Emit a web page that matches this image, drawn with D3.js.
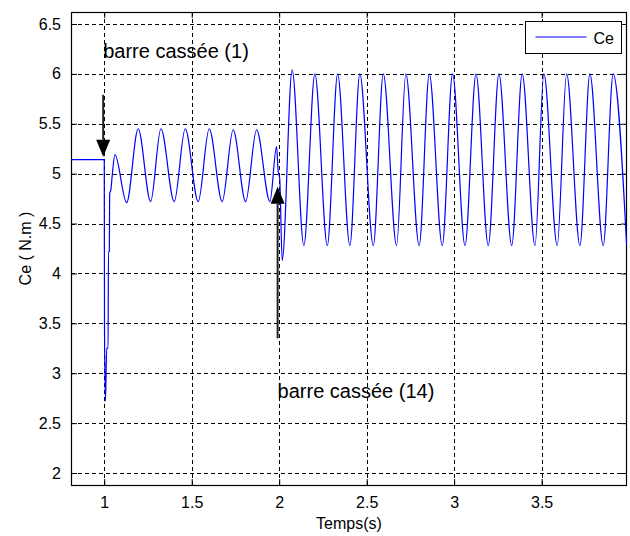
<!DOCTYPE html>
<html>
<head>
<meta charset="utf-8">
<script src="https://cdn.jsdelivr.net/npm/d3@7"></script>
<style>
  body { margin: 0; background: #fff; }
  svg text { font-family: "Liberation Sans", Arial, sans-serif; fill: #000; }
</style>
</head>
<body>
<div id="graph"></div>
<script>
// couple electromagnetique (extrema + transients)
const temps = [0.81, 1.000, 1.0015, 1.007, 1.014, 1.022, 1.024, 1.029, 1.031, 1.038, 1.046, 1.061,
  1.128, 1.194, 1.265, 1.324, 1.400, 1.463, 1.537, 1.600, 1.674, 1.737, 1.808, 1.871, 1.947,
  1.985, 1.994, 2.003, 2.017, 2.074, 2.141, 2.204, 2.275, 2.334, 2.404, 2.461, 2.538, 2.595,
  2.671, 2.724, 2.800, 2.858, 2.932, 2.991, 3.062, 3.125, 3.195, 3.256, 3.329, 3.389, 3.462,
  3.513, 3.589, 3.643, 3.719, 3.776, 3.852, 3.909, 3.986];
const ce = [5.14, 5.14, 3.45, 2.72, 3.25, 3.25, 4.22, 4.22, 4.80, 4.84, 4.99, 5.19,
  4.71, 5.45, 4.72, 5.45, 4.72, 5.45, 4.72, 5.45, 4.72, 5.44, 4.72, 5.44, 4.72,
  5.27, 5.03, 4.95, 4.13, 6.04, 4.28, 6.00, 4.28, 6.00, 4.28, 6.00, 4.28, 6.00,
  4.28, 6.00, 4.28, 6.00, 4.28, 6.00, 4.28, 6.00, 4.28, 6.00, 4.28, 6.00, 4.28,
  6.00, 4.28, 6.00, 4.28, 6.00, 4.28, 6.00, 4.28];

const xTicks = [1, 1.5, 2, 2.5, 3, 3.5];
const yTicks = [2, 2.5, 3, 3.5, 4, 4.5, 5, 5.5, 6, 6.5];

// annotations: arrows (x, from, to) and labels
const arrows = [
  {x: 0.994, from: 5.79, to: 5.17},
  {x: 1.991, from: 3.35, to: 4.87}
];
const labels = [
  {x: 0.994, y: 6.16, text: "barre cassée (1)"},
  {x: 1.991, y: 2.75, text: "barre cassée (14)"}
];

var margin = {top: 12, right: 3, bottom: 51, left: 71},
    W = 630, H = 536,
    width = W - margin.left - margin.right,
    height = H - margin.top - margin.bottom;

const x = d3.scaleLinear().domain([0.81, 3.988]).range([0, width]);
const y = d3.scaleLinear().domain([1.88, 6.62]).range([height, 0]);

const svg = d3.select("#graph").append("svg")
    .attr("width", W)
    .attr("height", H);

const g = svg.append("g")
    .attr("transform", `translate(${margin.left},${margin.top})`);

g.append("rect")
    .attr("width", width).attr("height", height)
    .attr("fill", "#fff");

// dashed grid
g.append("g").selectAll("line")
  .data(xTicks)
  .join("line")
    .attr("x1", d => Math.round(x(d)) + 0.5).attr("x2", d => Math.round(x(d)) + 0.5)
    .attr("y1", 0).attr("y2", height)
    .attr("stroke", "#000").attr("stroke-dasharray", "4,3");
g.append("g").selectAll("line")
  .data(yTicks)
  .join("line")
    .attr("y1", d => Math.round(y(d)) + 0.5).attr("y2", d => Math.round(y(d)) + 0.5)
    .attr("x1", 0).attr("x2", width)
    .attr("stroke", "#000").attr("stroke-dasharray", "4,3");

// axes, ticks pointing inward like matlab
const xAxis = g.append("g")
    .attr("transform", `translate(0,${height})`)
    .call(d3.axisBottom(x).tickValues(xTicks).tickFormat(d3.format("")).tickSizeInner(-6).tickSizeOuter(0).tickPadding(12));
const xTop = g.append("g")
    .call(d3.axisTop(x).tickValues(xTicks).tickFormat("").tickSizeInner(-6).tickSizeOuter(0));
const yAxis = g.append("g")
    .call(d3.axisLeft(y).tickValues(yTicks).tickFormat(d3.format("")).tickSizeInner(-6).tickSizeOuter(0).tickPadding(10));
const yRight = g.append("g")
    .attr("transform", `translate(${width},0)`)
    .call(d3.axisRight(y).tickValues(yTicks).tickFormat("").tickSizeInner(-6).tickSizeOuter(0));

[xAxis, xTop, yAxis, yRight].forEach(a => {
  a.select(".domain").remove();
  a.selectAll("line").attr("stroke", "#000");
  a.selectAll("text").style("font-size", "16px").attr("fill", "#000");
});

g.append("rect")
    .attr("x", 0.5).attr("y", 0.5)
    .attr("width", width - 1).attr("height", height)
    .attr("fill", "none").attr("stroke", "#000").attr("stroke-width", 1.2);

// signal
g.append("clipPath").attr("id", "clip")
  .append("rect").attr("width", width).attr("height", height);

const line = d3.line()
    .x(d => x(d[0]))
    .y(d => y(d[1]))
    .curve(d3.curveMonotoneX);

g.append("path")
    .datum(d3.zip(temps, ce))
    .attr("clip-path", "url(#clip)")
    .attr("fill", "none")
    .attr("stroke", "#0000ff")
    .attr("stroke-width", 1.2)
    .attr("d", line);

// arrows
arrows.forEach(a => {
  const px = x(a.x), y0 = y(a.from), y1 = y(a.to);
  const dir = y1 > y0 ? 1 : -1;
  const head = 17, half = 7;
  g.append("line")
      .attr("x1", px).attr("x2", px)
      .attr("y1", y0).attr("y2", y1 - dir * head)
      .attr("stroke", "#222").attr("stroke-width", 2);
  g.append("path")
      .attr("d", `M${px},${y1} L${px - half},${y1 - dir * head} L${px + half},${y1 - dir * head} Z`)
      .attr("fill", "#000");
});

g.selectAll(".annot")
  .data(labels)
  .join("text")
    .attr("class", "annot")
    .attr("x", d => x(d.x))
    .attr("y", d => y(d.y))
    .style("font-size", "20px")
    .text(d => d.text);

// legend
const leg = svg.append("g").attr("transform", "translate(525.5,21.5)");
leg.append("rect")
    .attr("width", 96).attr("height", 32)
    .attr("fill", "#fff").attr("stroke", "#000");
leg.append("line")
    .attr("x1", 10).attr("x2", 61).attr("y1", 15.5).attr("y2", 15.5)
    .attr("stroke", "#0000ff").attr("stroke-width", 1.2);
leg.append("text")
    .attr("x", 68).attr("y", 22)
    .style("font-size", "16px")
    .text("Ce");

// axis titles
svg.append("text")
    .attr("x", margin.left + width / 2)
    .attr("y", 529)
    .attr("text-anchor", "middle")
    .style("font-size", "16px")
    .text("Temps(s)");

svg.append("text")
    .attr("transform", `translate(31,${margin.top + height / 2}) rotate(-90)`)
    .attr("text-anchor", "middle")
    .style("font-size", "16px")
    .text("Ce ( N.m )");
</script>
</body>
</html>
